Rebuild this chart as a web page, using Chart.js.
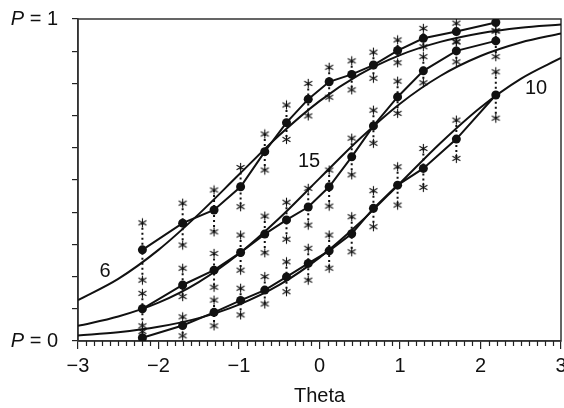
<!DOCTYPE html>
<html>
<head>
<meta charset="utf-8">
<script src="https://cdn.jsdelivr.net/npm/chart.js@4/dist/chart.umd.min.js"></script>
<style>
  html, body { margin: 0; padding: 0; background: #fff; }
  #wrap { width: 564px; height: 408px; }
</style>
</head>
<body>
<div id="wrap"><canvas id="icc"></canvas></div>
<script>
// ability group means (x positions of the empirical points)
const thetaGroups = [-2.2, -1.7, -1.31, -0.98, -0.68, -0.41, -0.14, 0.12, 0.40, 0.67, 0.97, 1.29, 1.70, 2.19];

// item 6: observed proportion and upper / lower bounds
const obs6 = [0.283, 0.366, 0.407, 0.479, 0.588, 0.678, 0.751, 0.805, 0.828, 0.857, 0.902, 0.940, 0.961, 0.989];
const hi6  = [0.367, 0.428, 0.469, 0.539, 0.643, 0.733, 0.800, 0.850, 0.870, 0.897, 0.935, 0.971, 0.987, 1.000];
const lo6  = [0.189, 0.298, 0.339, 0.417, 0.531, 0.626, 0.699, 0.757, 0.780, 0.816, 0.864, 0.914, 0.929, 0.963];

// item 15
const obs15 = [0.100, 0.174, 0.220, 0.275, 0.332, 0.376, 0.416, 0.479, 0.572, 0.668, 0.758, 0.839, 0.901, 0.932];
const hi15  = [0.148, 0.226, 0.272, 0.329, 0.388, 0.431, 0.474, 0.531, 0.630, 0.717, 0.807, 0.883, 0.929, 0.963];
const lo15  = [0.047, 0.138, 0.167, 0.220, 0.274, 0.316, 0.360, 0.419, 0.516, 0.614, 0.707, 0.802, 0.867, 0.883];

// item 10
const obs10 = [0.010, 0.048, 0.089, 0.126, 0.158, 0.199, 0.241, 0.280, 0.333, 0.412, 0.484, 0.536, 0.627, 0.764];
const hi10  = [0.030, 0.075, 0.127, 0.164, 0.200, 0.246, 0.288, 0.329, 0.386, 0.467, 0.541, 0.598, 0.686, 0.836];
const lo10  = [0.000, 0.016, 0.047, 0.081, 0.115, 0.153, 0.189, 0.226, 0.277, 0.355, 0.422, 0.477, 0.567, 0.692];

const curveTheta = [-3, -2.5, -2, -1.5, -1, -0.5, 0, 0.5, 1, 1.5, 2, 2.5, 3];
const curve6  = [0.127, 0.193, 0.283, 0.394, 0.517, 0.639, 0.745, 0.828, 0.888, 0.929, 0.956, 0.973, 0.983];
const curve15 = [0.047, 0.076, 0.119, 0.183, 0.271, 0.381, 0.505, 0.628, 0.737, 0.823, 0.885, 0.927, 0.955];
const curve10 = [0.017, 0.027, 0.044, 0.071, 0.113, 0.174, 0.259, 0.367, 0.490, 0.614, 0.725, 0.814, 0.879];

const xTickValues = [-3, -2, -1, 0, 1, 2, 3];

const FONT = '"Liberation Sans", Arial, Helvetica, sans-serif';
const INK = '#111';

function pts(xs, ys) { return xs.map((x, i) => ({ x, y: ys[i] })); }

// hi/lo pairs broken by gaps -> one dotted segment per group
function whiskers(hi, lo) {
  const out = [];
  thetaGroups.forEach((t, i) => {
    out.push({ x: t, y: hi[i] }, { x: t, y: lo[i] }, { x: t, y: null });
  });
  return out;
}

function bounds(hi, lo) {
  return pts(thetaGroups, hi).concat(pts(thetaGroups, lo));
}

function makeAsterisk() {
  const c = document.createElement('canvas');
  c.width = 11; c.height = 11;
  const g = c.getContext('2d');
  g.strokeStyle = '#111';
  g.lineWidth = 1.1;
  g.translate(5.5, 5.5);
  for (let i = 0; i < 3; i++) {
    const a = Math.PI / 2 + i * Math.PI / 3;
    g.beginPath();
    g.moveTo(Math.cos(a) * 4.6, Math.sin(a) * 4.6);
    g.lineTo(-Math.cos(a) * 4.6, -Math.sin(a) * 4.6);
    g.stroke();
  }
  return c;
}
const asterisk = makeAsterisk();

function empirical(ys) {
  return {
    data: pts(thetaGroups, ys), showLine: true,
    borderColor: INK, borderWidth: 2, tension: 0,
    pointRadius: 4.5, pointBackgroundColor: INK, pointBorderWidth: 0,
  };
}
function model(ys) {
  return {
    data: pts(curveTheta, ys), showLine: true,
    borderColor: INK, borderWidth: 2, cubicInterpolationMode: 'monotone',
    pointRadius: 0,
  };
}
function dotted(hi, lo) {
  return {
    data: whiskers(hi, lo), showLine: true, spanGaps: false,
    borderColor: INK, borderWidth: 2, borderDash: [2, 3],
    pointRadius: 0,
  };
}
function stars(hi, lo) {
  return {
    data: bounds(hi, lo), showLine: false,
    pointStyle: asterisk, pointRadius: 5,
  };
}

// where the item numbers sit (data units)
const itemTags = [
  { text: '6',  x: -2.665, y: 0.217 },
  { text: '15', x: -0.13,  y: 0.556 },
  { text: '10', x: 2.69,   y: 0.783 },
];

function drawPLabel(ctx, value, yPx, right) {
  ctx.font = '20px ' + FONT;
  const rest = ' = ' + value;
  const wRest = ctx.measureText(rest).width;
  ctx.textAlign = 'left';
  ctx.textBaseline = 'middle';
  ctx.fillText(rest, right - wRest, yPx);
  ctx.font = 'italic 20px ' + FONT;
  const wP = ctx.measureText('P').width;
  ctx.fillText('P', right - wRest - wP, yPx);
}

const decor = {
  id: 'decor',
  beforeDatasetsDraw(chart) {
    const { ctx, chartArea: a, scales: { x } } = chart;
    ctx.save();
    ctx.strokeStyle = '#333';
    ctx.lineWidth = 1.5;
    ctx.strokeRect(a.left, a.top, a.right - a.left, a.bottom - a.top);
    // minor ticks every 0.1 on the theta axis
    ctx.strokeStyle = '#222';
    ctx.lineWidth = 1.2;
    for (let i = 0; i <= 60; i++) {
      if (i % 10 === 0) continue;
      const px = Math.round(x.getPixelForValue(-3 + i / 10)) + 0.5;
      ctx.beginPath();
      ctx.moveTo(px, a.bottom);
      ctx.lineTo(px, a.bottom + 5);
      ctx.stroke();
    }
    ctx.restore();
  },
  afterDraw(chart) {
    const { ctx, chartArea: a, scales: { x, y } } = chart;
    ctx.save();
    ctx.fillStyle = INK;
    drawPLabel(ctx, 1, y.getPixelForValue(1), 58);
    drawPLabel(ctx, 0, y.getPixelForValue(0), 58);
    ctx.font = '20px ' + FONT;
    ctx.textAlign = 'center';
    // theta tick labels (drawn here so the last one may run off the edge)
    ctx.textBaseline = 'alphabetic';
    xTickValues.forEach(v => {
      const s = v < 0 ? '\u2212' + Math.abs(v) : String(v);
      ctx.fillText(s, x.getPixelForValue(v), a.bottom + 31);
    });
    ctx.textBaseline = 'middle';
    itemTags.forEach(t => ctx.fillText(t.text, x.getPixelForValue(t.x), y.getPixelForValue(t.y)));
    ctx.restore();
  },
};

new Chart(document.getElementById('icc'), {
  type: 'scatter',
  data: {
    datasets: [
      empirical(obs6), empirical(obs15), empirical(obs10),
      stars(hi6, lo6), stars(hi15, lo15), stars(hi10, lo10),
      dotted(hi6, lo6), dotted(hi15, lo15), dotted(hi10, lo10),
      model(curve6), model(curve15), model(curve10),
    ],
  },
  options: {
    responsive: true,
    maintainAspectRatio: false,
    animation: false,
    layout: { autoPadding: false, padding: { top: 19, right: 3, left: 0, bottom: 0 } },
    plugins: { legend: { display: false }, tooltip: { enabled: false } },
    scales: {
      x: {
        type: 'linear', min: -3, max: 3,
        afterBuildTicks: s => { s.ticks = xTickValues.map(v => ({ value: v })); },
        afterFit: s => { s.height = 67; },
        ticks: { display: false },
        grid: { drawOnChartArea: false, tickLength: 8, color: '#222', lineWidth: 1.2 },
        border: { color: '#333', width: 1.5 },
        title: {
          display: true, text: 'Theta', color: INK,
          font: { family: FONT, size: 20 }, padding: { top: 0, bottom: 0 },
        },
      },
      y: {
        type: 'linear', min: 0, max: 1,
        afterFit: s => { s.width = 78; },
        ticks: { stepSize: 0.1, callback: () => '' },
        grid: { drawOnChartArea: false, tickLength: 6, color: '#222', lineWidth: 1.2 },
        border: { color: '#333', width: 1.5 },
      },
    },
  },
  plugins: [decor],
});
</script>
</body>
</html>
